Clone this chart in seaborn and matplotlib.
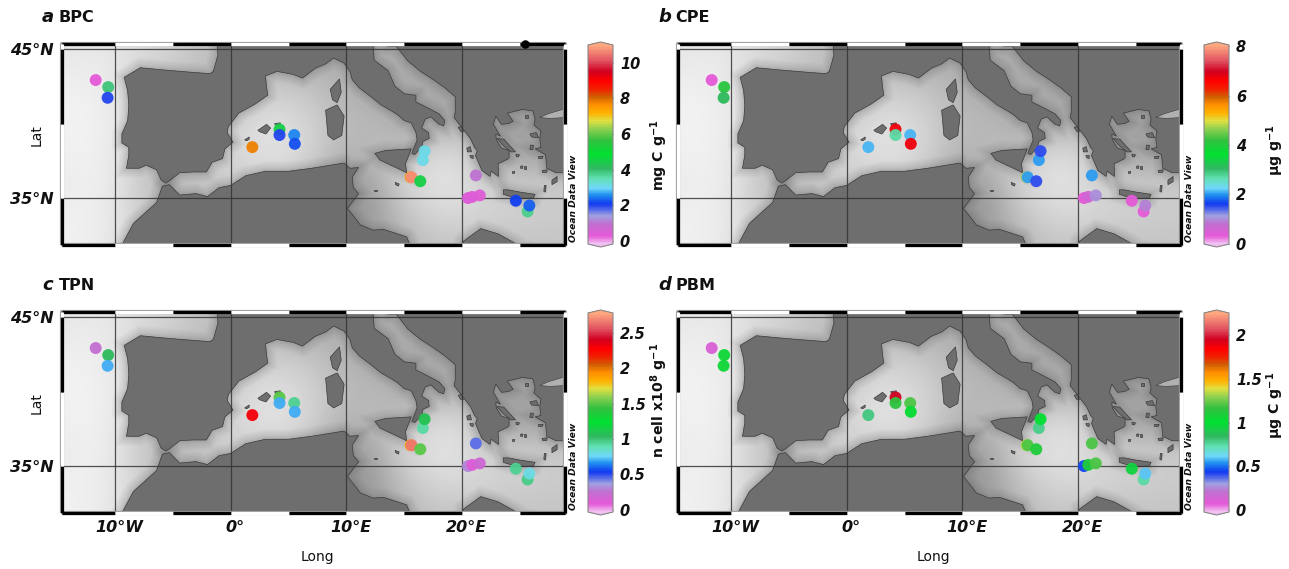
import matplotlib
matplotlib.use("Agg")
import matplotlib.pyplot as plt
import matplotlib.patheffects as pe
from matplotlib.cm import ScalarMappable
from matplotlib.colors import LinearSegmentedColormap, Normalize
from matplotlib.patches import Polygon
from matplotlib.transforms import ScaledTranslation
import numpy as np
import pandas as pd
import seaborn as sns

# stations (the extra 10b sits just behind station 10)
station_lon = [-11.66, -10.58, -10.63, 1.87, 4.22, 4.22, 5.49, 5.54, 16.6, 16.75, 15.55, 15.63, 16.38,
               21.18, 20.5, 20.87, 21.52, 24.63, 25.65, 25.8]
station_lat = [42.92, 42.45, 41.73, 38.42, 39.61, 39.23, 39.23, 38.64, 37.55, 38.15, 36.4, 36.4, 36.13,
               36.52, 35.0, 35.08, 35.18, 34.82, 34.1, 34.5]

bpc = [0.3, 3.9, 2.0, 7.8, 4.5, 2.0, 2.5, 2.2, 3.1, 3.1, 7.5, 10.7, 4.5, 1.0, 0.4, 0.4, 0.4, 2.1, 3.8, 2.3]
cpe = [0.3, 4.1, 3.1, 2.1, 6.7, 2.7, 2.1, 6.7, 2.0, 1.5, 4.8, 2.0, 1.5, 2.0, 0.3, 0.6, 1.0, 0.3, 0.3, 0.9]
tpn = [0.25, 1.05, 0.7, 2.3, 1.5, 0.7, 0.95, 0.7, 0.92, 1.1, 1.85, 2.65, 1.5, 0.45, 0.3, 0.12, 0.2, 0.95, 0.97, 0.8]
pbm = [0.12, 1.05, 1.05, 0.8, 1.95, 1.15, 1.2, 1.02, 0.78, 1.0, 1.35, 1.2, 1.1, 1.2, 0.45, 1.1, 1.2, 0.95, 0.75, 0.6]

panel_letters = ["a", "b", "c", "d"]
panel_names = ["BPC", "CPE", "TPN", "PBM"]
panel_values = [bpc, cpe, tpn, pbm]
panel_ranges = [(-0.17, 11.0), (-0.02, 8.05), (-0.03, 2.78), (-0.02, 2.25)]
panel_ticks = [[0, 2, 4, 6, 8, 10], [0, 2, 4, 6, 8], [0, 0.5, 1, 1.5, 2, 2.5], [0, 0.5, 1, 1.5, 2]]
panel_ticklabels = [["0", "2", "4", "6", "8", "10"], ["0", "2", "4", "6", "8"],
                    ["0", "0.5", "1", "1.5", "2", "2.5"], ["0", "0.5", "1", "1.5", "2"]]
panel_units = [r"mg C g$^{\mathbf{-1}}$", r"µg g$^{\mathbf{-1}}$", r"n cell x10$^{\mathbf{8}}$ g$^{\mathbf{-1}}$",
               r"µg C g$^{\mathbf{-1}}$"]

# grey levels of the sea floor, read by eye
depth_lons = [-15, -12.5, -10, -7.5, -5, -2.5, 0, 2.5, 5, 7.5, 10, 12.5, 15, 17.5, 20, 22.5, 25, 27.5, 30]
depth_lats = [46, 44, 42, 40, 38, 36, 34, 32]
depth_46 = [228, 228, 225, 222, 212, 195, 190, 170, 170, 170, 170, 170, 170, 170, 170, 170, 170, 170, 170]
depth_44 = [232, 235, 232, 212, 205, 190, 190, 190, 175, 175, 170, 170, 170, 165, 165, 160, 160, 160, 160]
depth_42 = [240, 240, 232, 205, 195, 190, 190, 205, 205, 195, 178, 172, 170, 165, 165, 160, 160, 160, 160]
depth_40 = [240, 242, 235, 215, 195, 195, 205, 222, 222, 205, 185, 185, 170, 165, 180, 165, 160, 160, 160]
depth_38 = [238, 242, 232, 210, 195, 195, 215, 225, 225, 205, 180, 185, 195, 218, 218, 170, 160, 160, 165]
depth_36 = [232, 240, 232, 195, 180, 195, 205, 205, 205, 185, 150, 170, 215, 225, 225, 205, 205, 200, 200]
depth_34 = [238, 240, 230, 205, 190, 190, 190, 190, 190, 190, 140, 155, 195, 215, 218, 212, 208, 205, 205]
depth_32 = [240, 240, 228, 205, 190, 190, 190, 190, 190, 190, 150, 165, 180, 195, 195, 195, 195, 195, 195]
depth_rows = [depth_46, depth_44, depth_42, depth_40, depth_38, depth_36, depth_34, depth_32]

europe = [(-1.2, 46.8), (-1.2, 45.5), (-1.1, 44.6), (-1.5, 43.5), (-1.8, 43.35), (-3.5, 43.45), (-5.8, 43.6),
          (-7.8, 43.75), (-9.2, 43.1), (-8.9, 42.2), (-8.8, 41.2), (-8.9, 40.2), (-9.4, 39.3), (-9.4, 38.7),
          (-8.8, 38.4), (-8.8, 37.9), (-9.0, 37.0), (-7.9, 37.0), (-7.3, 37.2), (-6.4, 36.9), (-6.0, 36.2),
          (-5.6, 36.0), (-5.3, 36.15), (-4.4, 36.7), (-3.3, 36.75), (-2.1, 36.75), (-1.6, 37.4), (-0.7, 37.65),
          (-0.5, 38.3), (0.2, 38.75), (-0.3, 39.4), (-0.2, 39.8), (0.7, 40.7), (2.1, 41.3), (3.2, 41.9),
          (3.1, 42.5), (3.0, 43.2), (4.0, 43.5), (5.4, 43.3), (6.2, 43.05), (7.3, 43.7), (8.2, 44.0),
          (8.9, 44.4), (9.8, 44.05), (10.3, 43.5), (10.5, 42.95), (11.1, 42.4), (12.2, 41.75), (13.0, 41.25),
          (14.0, 40.8), (14.4, 40.6), (15.0, 40.2), (15.6, 40.05), (16.0, 39.4), (16.1, 38.9), (15.65, 38.0),
          (15.9, 37.92), (16.5, 38.4), (16.6, 38.8), (17.15, 39.0), (17.1, 39.4), (16.5, 39.7), (16.8, 40.3),
          (17.3, 40.45), (18.0, 39.95), (18.4, 39.85), (18.5, 40.2), (18.0, 40.65), (16.9, 41.1), (16.0, 41.45),
          (16.0, 41.9), (15.0, 42.0), (14.2, 42.5), (13.6, 43.55), (12.4, 44.25), (12.3, 45.3), (13.2, 45.75),
          (13.6, 45.2), (14.3, 45.2), (15.0, 44.5), (15.3, 44.2), (16.4, 43.5), (17.5, 42.95), (18.5, 42.4),
          (19.4, 41.8), (19.4, 40.8), (19.3, 40.4), (20.0, 39.7), (20.7, 39.0), (21.1, 38.35), (21.3, 38.2),
          (21.15, 37.85), (21.7, 36.85), (22.4, 36.45), (22.5, 36.8), (23.15, 36.45), (23.1, 37.3), (23.9, 37.6),
          (24.05, 37.7), (24.05, 38.2), (23.4, 38.35), (22.95, 38.9), (22.9, 39.3), (23.3, 39.15), (22.7, 39.95),
          (22.9, 40.5), (23.4, 39.95), (24.0, 40.0), (24.4, 40.15), (23.9, 40.7), (25.2, 40.95), (26.1, 40.85),
          (26.3, 40.3), (26.2, 39.9), (26.8, 39.5), (26.7, 39.0), (26.8, 38.4), (26.3, 38.3), (27.2, 37.9),
          (27.3, 37.0), (28.1, 36.7), (28.9, 36.7), (29.6, 36.2), (30.5, 36.3), (30.5, 46.8)]
africa = [(-11, 30), (-9.3, 32), (-8.4, 33.3), (-6.4, 34.7), (-5.9, 35.8), (-5.3, 35.9), (-4.4, 35.2), (-3, 35.3),
          (-2, 35.1), (-1, 35.7), (0, 35.85), (1.3, 36.5), (3, 36.8), (5, 36.8), (7, 37.0), (9.8, 37.35),
          (10.3, 37.0), (11.05, 37.05), (10.5, 36.4), (10.6, 35.7), (11.05, 35.3), (10.1, 34.3), (10.8, 33.6),
          (11.2, 33.2), (12.3, 32.85), (13.2, 32.9), (15.2, 32.4), (15.8, 31.3), (19.5, 30.5), (20.0, 31.0),
          (20.1, 32.1), (21.6, 32.95), (23.1, 32.6), (24.5, 32.0), (25.2, 31.6), (27, 31.3), (31, 31.3), (31, 29)]
mallorca = [(2.35, 39.55), (3.1, 39.95), (3.45, 39.7), (3.05, 39.3), (2.5, 39.45)]
menorca = [(3.8, 40.0), (4.3, 40.05), (4.2, 39.85), (3.85, 39.9)]
ibiza = [(1.2, 38.9), (1.6, 39.1), (1.6, 38.95), (1.4, 38.85)]
corsica = [(8.6, 42.3), (9.4, 43.0), (9.55, 42.1), (9.2, 41.4), (8.8, 41.6)]
sardinia = [(8.2, 40.9), (9.2, 41.25), (9.8, 40.5), (9.6, 39.2), (8.9, 38.9), (8.4, 39.2)]
sicily = [(12.45, 38.0), (13.4, 38.2), (15.6, 38.3), (15.1, 37.3), (15.2, 36.7), (14.4, 37.0), (12.9, 37.55)]
crete = [(23.55, 35.55), (24.0, 35.55), (25.0, 35.4), (26.3, 35.25), (26.15, 35.0), (24.8, 34.95), (23.55, 35.25)]
euboea = [(23.0, 39.0), (23.6, 38.95), (24.6, 38.1), (24.2, 38.1), (23.5, 38.55)]
lesbos = [(25.85, 39.3), (26.4, 39.4), (26.6, 39.05), (26.0, 39.1)]
chios = [(25.9, 38.55), (26.15, 38.55), (26.1, 38.25), (25.85, 38.25)]
samos = [(26.6, 37.8), (27.0, 37.8), (26.9, 37.65), (26.6, 37.65)]
rhodes = [(27.75, 36.2), (28.2, 36.45), (28.2, 36.1), (27.75, 35.9)]
karpathos = [(27.1, 35.85), (27.25, 35.85), (27.2, 35.4), (27.05, 35.45)]
corfu = [(19.65, 39.75), (19.95, 39.8), (20.1, 39.45), (19.9, 39.45)]
kefalonia = [(20.4, 38.35), (20.7, 38.45), (20.8, 38.1), (20.45, 38.1)]
zakynthos = [(20.65, 37.85), (20.95, 37.85), (20.95, 37.65), (20.75, 37.7)]
naxos = [(25.35, 37.15), (25.55, 37.15), (25.55, 36.95), (25.35, 36.95)]
andros = [(24.65, 37.95), (24.95, 37.9), (24.85, 37.75), (24.65, 37.8)]
paros = [(25.05, 37.15), (25.25, 37.15), (25.2, 36.98), (25.05, 37.0)]
milos = [(24.35, 36.78), (24.55, 36.78), (24.5, 36.65), (24.35, 36.65)]
kos = [(26.9, 36.85), (27.35, 36.9), (27.3, 36.72), (26.95, 36.7)]
samothrace = [(25.4, 40.55), (25.7, 40.55), (25.7, 40.4), (25.4, 40.4)]
lampedusa = [(12.35, 35.55), (12.65, 35.55), (12.65, 35.45), (12.35, 35.45)]
malta = [(14.2, 36.05), (14.55, 35.95), (14.5, 35.8), (14.25, 35.9)]
land_shapes = [europe, africa, mallorca, menorca, ibiza, corsica, sardinia, sicily, crete, euboea, lesbos, chios,
               samos, rhodes, karpathos, corfu, kefalonia, zakynthos, naxos, andros, paros, milos, kos,
               samothrace, lampedusa, malta]
marmara = [(26.7, 40.4), (27.4, 40.65), (28.9, 41.0), (29.5, 40.8), (28.8, 40.4), (27.6, 40.35)]

rainbow_stops = [(0.0, "#f0c0f0"), (0.04, "#e558d8"), (0.10, "#c070d0"), (0.14, "#a0a0e0"), (0.20, "#1038f0"),
                 (0.245, "#2090f0"), (0.28, "#70d8f8"), (0.33, "#60e0b0"), (0.38, "#30b860"), (0.45, "#00e030"),
                 (0.52, "#30c040"), (0.58, "#90d050"), (0.62, "#e0e040"), (0.66, "#ffb000"), (0.70, "#ff9000"),
                 (0.74, "#d06000"), (0.78, "#f02000"), (0.82, "#ff0000"), (0.87, "#d00020"), (0.92, "#e05060"),
                 (1.0, "#ffa880")]
odv = LinearSegmentedColormap.from_list("odv", rainbow_stops, N=256)
odv.set_under("#f0c0f0")
odv.set_over("#ffa880")

W, H = 1289, 569


def add_axes_px(x0, y0, x1, y1):
    return fig.add_axes([x0 / W, 1 - y1 / H, (x1 - x0) / W, (y1 - y0) / H])


def draw_map(ax):
    ax.imshow(np.array(depth_rows), cmap="gray", vmin=0, vmax=255, aspect="auto", interpolation="bicubic",
              extent=[depth_lons[0] - 1.25, depth_lons[-1] + 1.25, depth_lats[-1] - 1, depth_lats[0] + 1])
    for shape in land_shapes:
        p = Polygon(shape, closed=True, facecolor="#6e6e6e", edgecolor="#3a3a3a", linewidth=0.5, zorder=2)
        if len(shape) > 6:
            strokes = []
            for w, a in zip([14, 11, 8, 5, 3], [0.04, 0.05, 0.05, 0.06, 0.07]):
                strokes.append(pe.Stroke(linewidth=w, foreground="#555555", alpha=a))
            p.set_path_effects(strokes + [pe.Normal()])
        ax.add_patch(p)
    ax.add_patch(Polygon(marmara, closed=True, facecolor="#b0b0b0", edgecolor="#3a3a3a", linewidth=0.4, zorder=2))
    for lon in [-10, 0, 10, 20]:
        ax.axvline(lon, color="#333333", lw=0.9, alpha=0.85, zorder=3)
    for lat in [35, 45]:
        ax.axhline(lat, color="#333333", lw=0.9, alpha=0.85, zorder=3)


def draw_frame(ax, lon0, lon1, lat0, lat1):
    ax.plot([lon0, lon1, lon1, lon0, lon0], [lat0, lat0, lat1, lat1, lat0], color="#999999", lw=3.0,
            clip_on=False, zorder=5, solid_capstyle="butt")
    lon_breaks = [lon0, -10, -5, 0, 5, 10, 15, 20, 25, lon1]
    for i in range(len(lon_breaks) - 1):
        col = "black" if i % 2 == 0 else "white"
        for lat in [lat0, lat1]:
            ax.plot(lon_breaks[i:i + 2], [lat, lat], color=col, lw=2.3, clip_on=False, zorder=6,
                    solid_capstyle="butt")
    lat_breaks = [lat0, 35, 40, 45, lat1]
    lat_cols = ["black", "white", "black", "white"]
    for i in range(4):
        for lon in [lon0, lon1]:
            ax.plot([lon, lon], lat_breaks[i:i + 2], color=lat_cols[i], lw=2.3, clip_on=False, zorder=6,
                    solid_capstyle="butt")


sns.set_style("white")
plt.rcParams["font.family"] = ["DejaVu Sans"]
plt.rcParams["mathtext.default"] = "regular"
fig = plt.figure(figsize=(W / 100, H / 100), dpi=100)

lon_min, lon_max = -14.57, 28.88
lat_min, lat_max = 31.85, 45.34
dx, dy = 616, 268

for i in range(4):
    ox = dx * (i % 2)
    oy = dy * (i // 2)
    ax = add_axes_px(62 + ox, 44 + oy, 565 + ox, 245 + oy)
    draw_map(ax)

    df = pd.DataFrame({"lon": station_lon, "lat": station_lat, "value": panel_values[i]})
    sns.scatterplot(data=df, x="lon", y="lat", hue="value", palette=odv, hue_norm=panel_ranges[i], s=74,
                    linewidth=0, legend=False, alpha=0.95, zorder=4, ax=ax)
    if i == 0:
        ax.scatter([25.4], [45.36], s=26, color="black", clip_on=False, zorder=7)

    ax.set_xlim(lon_min, lon_max)
    ax.set_ylim(lat_min, lat_max)
    ax.set_xlabel("")
    ax.set_ylabel("")
    for s in ax.spines.values():
        s.set_visible(False)
    draw_frame(ax, lon_min, lon_max, lat_min, lat_max)

    ax.tick_params(length=0)
    if i >= 2:
        ax.set_xticks([-10, 0, 10, 20])
        ax.set_xticklabels(["10°W", "0°", "10°E", "20°E"], fontsize=11.5, fontweight="bold", style="italic",
                           color="#111111")
        ax.tick_params(axis="x", pad=5)
        shift = ScaledTranslation(4 / 100, 0, fig.dpi_scale_trans)
        for lbl in ax.get_xticklabels():
            lbl.set_transform(lbl.get_transform() + shift)
        fig.text((317 + ox) / W, 1 - 557 / H, "Long", fontsize=10, ha="center", va="center", color="#111111")
    else:
        ax.set_xticks([])
    if i % 2 == 0:
        ax.set_yticks([35, 45])
        ax.set_yticklabels(["35°N", "45°N"], fontsize=11.5, fontweight="bold", style="italic", color="#111111")
        ax.tick_params(axis="y", pad=6)
        fig.text(37 / W, 1 - (135 + oy) / H, "Lat", fontsize=10, rotation=90, ha="center", va="center",
                 color="#111111")
    else:
        ax.set_yticks([])

    fig.text((42 + ox) / W, 1 - (17 + oy) / H, panel_letters[i], fontsize=13, fontweight="bold", style="italic",
             va="center", color="#111111")
    fig.text((59 + ox) / W, 1 - (17 + oy) / H, panel_names[i], fontsize=11.5, fontweight="bold", va="center",
             color="#111111")
    fig.text((574 + ox) / W, 1 - (242 + oy) / H, "Ocean Data View", fontsize=6.6, fontweight="bold", style="italic",
             rotation=90, ha="center", va="bottom", color="#111111")

    cax = add_axes_px(588 + ox, 42 + oy, 613 + ox, 247 + oy)
    sm = ScalarMappable(norm=Normalize(*panel_ranges[i]), cmap=odv)
    cb = fig.colorbar(sm, cax=cax, extend="both", extendfrac=0.015, ticks=panel_ticks[i])
    cb.ax.set_yticklabels(panel_ticklabels[i], fontsize=10.5, fontweight="bold", style="italic", color="#111111")
    cb.ax.tick_params(axis="y", direction="in", length=4, width=0.8, left=True, right=True, pad=5, color="#444444")
    cb.outline.set_edgecolor("#888888")
    cb.outline.set_linewidth(0.8)

    unit_x = [659, 1275, 659, 1275][i]
    unit_y = [155, 150, 400, 405][i]
    fig.text(unit_x / W, 1 - unit_y / H, panel_units[i], fontsize=10.2, fontweight="bold", rotation=90,
             ha="center", va="center", color="#111111")

fig.savefig("out.png", dpi=100)
